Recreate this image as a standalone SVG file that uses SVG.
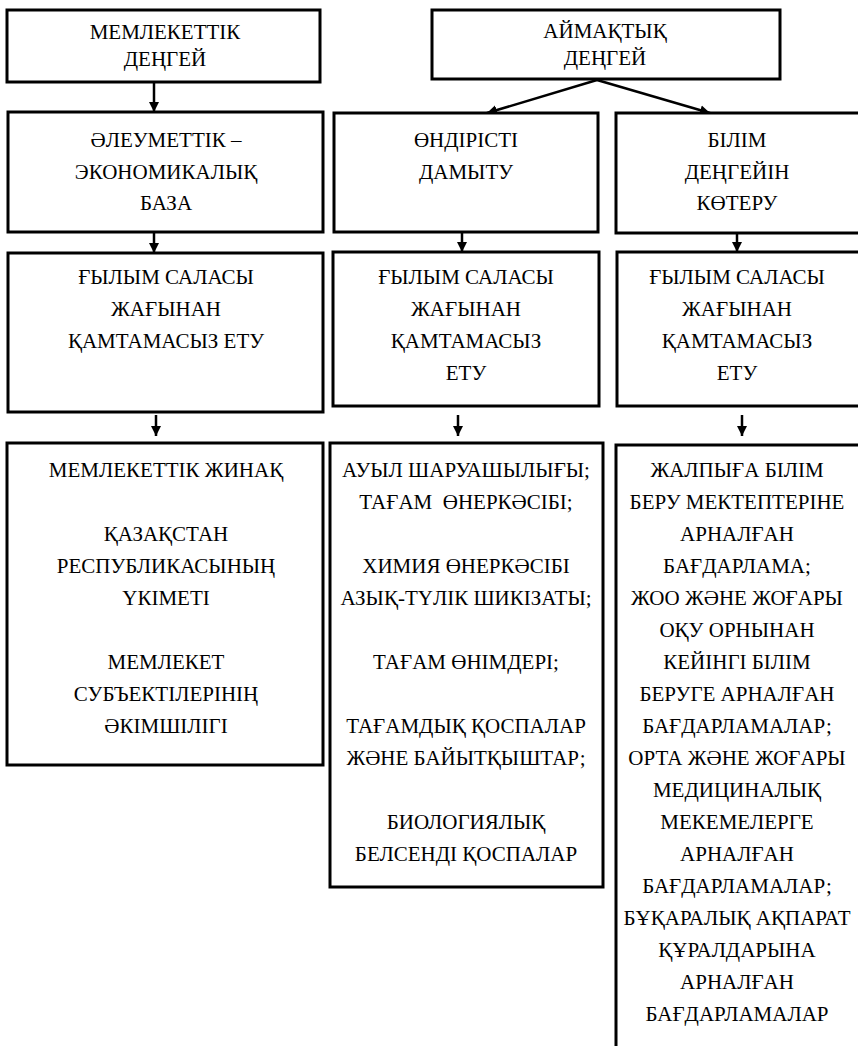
<svg xmlns="http://www.w3.org/2000/svg" width="858" height="1046" viewBox="0 0 858 1046">
  <style>
    .box { fill: #ffffff; stroke: #000000; stroke-width: 3; }
    .lbl { font-family: "Liberation Serif", "Times New Roman", serif; font-size: 21px; fill: #000000; text-anchor: middle; }
    .link { stroke: #000000; stroke-width: 2.5; fill: none; }
  </style>
  <defs>
    <marker id="head" viewBox="0 0 10 10" refX="10" refY="5" markerWidth="10" markerHeight="15" markerUnits="userSpaceOnUse" orient="auto">
      <path d="M0,0 L10,5 L0,10 z" fill="#000000"/>
    </marker>
  </defs>
  <rect width="858" height="1046" fill="#ffffff"/>

  <!-- connectors -->
  <g id="connectors">
    <line class="link" x1="154" y1="82" x2="154" y2="112" marker-end="url(#head)"/>
    <line class="link" x1="597" y1="80" x2="487" y2="113" marker-end="url(#head)"/>
    <line class="link" x1="597" y1="80" x2="710" y2="113" marker-end="url(#head)"/>
    <line class="link" x1="154" y1="232" x2="154" y2="253" marker-end="url(#head)"/>
    <line class="link" x1="462" y1="232" x2="462" y2="252" marker-end="url(#head)"/>
    <line class="link" x1="737" y1="233" x2="737" y2="252" marker-end="url(#head)"/>
    <line class="link" x1="156" y1="415" x2="156" y2="436" marker-end="url(#head)"/>
    <line class="link" x1="458" y1="415" x2="458" y2="436" marker-end="url(#head)"/>
    <line class="link" x1="742" y1="415" x2="742" y2="436" marker-end="url(#head)"/>
  </g>

  <!-- top level -->
  <g id="state-level">
    <rect class="box" x="7" y="10" width="313" height="72"/>
    <text class="lbl" x="165" y="39">МЕМЛЕКЕТТІК</text>
    <text class="lbl" x="165" y="66">ДЕҢГЕЙ</text>
  </g>
  <g id="regional-level">
    <rect class="box" x="432" y="10" width="348" height="69"/>
    <text class="lbl" x="605" y="38">АЙМАҚТЫҚ</text>
    <text class="lbl" x="605" y="65">ДЕҢГЕЙ</text>
  </g>

  <!-- second row -->
  <g id="socio-economic">
    <rect class="box" x="8" y="112" width="315" height="120"/>
    <text class="lbl" x="166" y="147">ӘЛЕУМЕТТІК –</text>
    <text class="lbl" x="166" y="179">ЭКОНОМИКАЛЫҚ</text>
    <text class="lbl" x="166" y="210">БАЗА</text>
  </g>
  <g id="production">
    <rect class="box" x="334" y="113" width="264" height="119"/>
    <text class="lbl" x="466" y="147">ӨНДІРІСТІ</text>
    <text class="lbl" x="466" y="179">ДАМЫТУ</text>
  </g>
  <g id="education">
    <rect class="box" x="616" y="113" width="260" height="120"/>
    <text class="lbl" x="737" y="147">БІЛІМ</text>
    <text class="lbl" x="737" y="179">ДЕҢГЕЙІН</text>
    <text class="lbl" x="737" y="210">КӨТЕРУ</text>
  </g>

  <!-- science support row -->
  <g id="science-1">
    <rect class="box" x="8" y="253" width="315" height="159"/>
    <text class="lbl" x="166" y="284">ҒЫЛЫМ САЛАСЫ</text>
    <text class="lbl" x="166" y="316">ЖАҒЫНАН</text>
    <text class="lbl" x="166" y="348">ҚАМТАМАСЫЗ ЕТУ</text>
  </g>
  <g id="science-2">
    <rect class="box" x="333" y="252" width="266" height="154"/>
    <text class="lbl" x="466" y="284">ҒЫЛЫМ САЛАСЫ</text>
    <text class="lbl" x="466" y="316">ЖАҒЫНАН</text>
    <text class="lbl" x="466" y="348">ҚАМТАМАСЫЗ</text>
    <text class="lbl" x="466" y="380">ЕТУ</text>
  </g>
  <g id="science-3">
    <rect class="box" x="617" y="252" width="260" height="154"/>
    <text class="lbl" x="737" y="284">ҒЫЛЫМ САЛАСЫ</text>
    <text class="lbl" x="737" y="316">ЖАҒЫНАН</text>
    <text class="lbl" x="737" y="348">ҚАМТАМАСЫЗ</text>
    <text class="lbl" x="737" y="380">ЕТУ</text>
  </g>

  <!-- bottom row -->
  <g id="state-bodies">
    <rect class="box" x="7" y="443" width="316" height="322"/>
    <text class="lbl" x="166" y="477">МЕМЛЕКЕТТІК ЖИНАҚ</text>
    <text class="lbl" x="166" y="541">ҚАЗАҚСТАН</text>
    <text class="lbl" x="166" y="573">РЕСПУБЛИКАСЫНЫҢ</text>
    <text class="lbl" x="166" y="605">ҮКІМЕТІ</text>
    <text class="lbl" x="166" y="669">МЕМЛЕКЕТ</text>
    <text class="lbl" x="166" y="701">СУБЪЕКТІЛЕРІНІҢ</text>
    <text class="lbl" x="166" y="733">ӘКІМШІЛІГІ</text>
  </g>
  <g id="industries">
    <rect class="box" x="330" y="443" width="273" height="444"/>
    <text class="lbl" x="466" y="477">АУЫЛ ШАРУАШЫЛЫҒЫ;</text>
    <text class="lbl" x="466" y="509" xml:space="preserve">ТАҒАМ  ӨНЕРКӘСІБІ;</text>
    <text class="lbl" x="466" y="573">ХИМИЯ ӨНЕРКӘСІБІ</text>
    <text class="lbl" x="466" y="605">АЗЫҚ-ТҮЛІК ШИКІЗАТЫ;</text>
    <text class="lbl" x="466" y="669">ТАҒАМ ӨНІМДЕРІ;</text>
    <text class="lbl" x="466" y="733">ТАҒАМДЫҚ ҚОСПАЛАР</text>
    <text class="lbl" x="466" y="765">ЖӘНЕ БАЙЫТҚЫШТАР;</text>
    <text class="lbl" x="466" y="829">БИОЛОГИЯЛЫҚ</text>
    <text class="lbl" x="466" y="861">БЕЛСЕНДІ ҚОСПАЛАР</text>
  </g>
  <g id="programs">
    <rect class="box" x="616" y="445" width="260" height="620"/>
    <text class="lbl" x="737" y="477">ЖАЛПЫҒА БІЛІМ</text>
    <text class="lbl" x="737" y="509">БЕРУ МЕКТЕПТЕРІНЕ</text>
    <text class="lbl" x="737" y="541">АРНАЛҒАН</text>
    <text class="lbl" x="737" y="573">БАҒДАРЛАМА;</text>
    <text class="lbl" x="737" y="605">ЖОО ЖӘНЕ ЖОҒАРЫ</text>
    <text class="lbl" x="737" y="637">ОҚУ ОРНЫНАН</text>
    <text class="lbl" x="737" y="669">КЕЙІНГІ БІЛІМ</text>
    <text class="lbl" x="737" y="701">БЕРУГЕ АРНАЛҒАН</text>
    <text class="lbl" x="737" y="733">БАҒДАРЛАМАЛАР;</text>
    <text class="lbl" x="737" y="765">ОРТА ЖӘНЕ ЖОҒАРЫ</text>
    <text class="lbl" x="737" y="797">МЕДИЦИНАЛЫҚ</text>
    <text class="lbl" x="737" y="829">МЕКЕМЕЛЕРГЕ</text>
    <text class="lbl" x="737" y="861">АРНАЛҒАН</text>
    <text class="lbl" x="737" y="893">БАҒДАРЛАМАЛАР;</text>
    <text class="lbl" x="737" y="925">БҰҚАРАЛЫҚ АҚПАРАТ</text>
    <text class="lbl" x="737" y="957">ҚҰРАЛДАРЫНА</text>
    <text class="lbl" x="737" y="989">АРНАЛҒАН</text>
    <text class="lbl" x="737" y="1021">БАҒДАРЛАМАЛАР</text>
  </g>
</svg>
